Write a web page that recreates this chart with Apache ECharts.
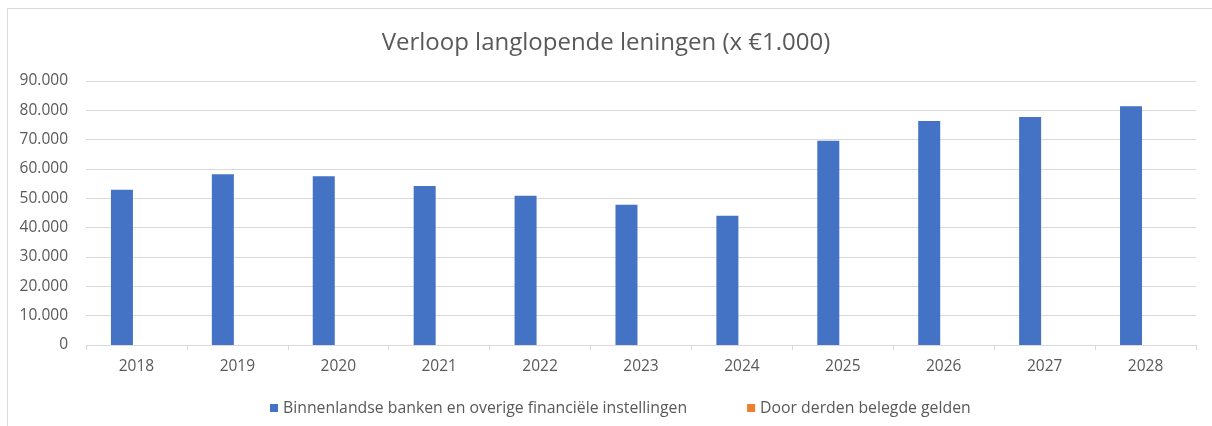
<!DOCTYPE html>
<html>
<head>
<meta charset="utf-8">
<script src="https://cdn.jsdelivr.net/npm/echarts@6/dist/echarts.min.js"></script>
<style>
html,body{margin:0;padding:0;background:#fff;}
#c{width:1212px;height:426px;}
</style>
</head>
<body>
<div id="c"></div>
<script>
const categories = ['2018','2019','2020','2021','2022','2023','2024','2025','2026','2027','2028'];
const binnenlandse = [52900, 58200, 57500, 54200, 50900, 47800, 44100, 69600, 76400, 77700, 81400];
const derden = [0, 0, 0, 0, 0, 0, 0, 0, 0, 0, 0];
const seriesNames = ['Binnenlandse banken en overige financiële instellingen', 'Door derden belegde gelden'];
const titleText = 'Verloop langlopende leningen (x €1.000)';

function fmt(v){
  return String(Math.round(v)).replace(/\B(?=(\d{3})+(?!\d))/g, '.');
}

const chart = echarts.init(document.getElementById('c'), null, {renderer:'canvas'});
const font = 'Open Sans';
chart.setOption({
  animation:false,
  backgroundColor:'#ffffff',
  graphic:[{
    type:'rect', shape:{x:7.5,y:8.5,width:1220,height:430},
    style:{fill:'none', stroke:'#d9d9d9', lineWidth:1}, silent:true
  }],
  title:{
    text:titleText, left:'center', top:26,
    textStyle:{fontFamily:font, fontSize:24, fontWeight:'normal', color:'#595959'}
  },
  legend:{
    bottom:5, left:265, itemWidth:8, itemHeight:8, itemGap:60,
    icon:'rect',
    textStyle:{fontFamily:font, fontSize:15.8, color:'#595959'},
    data:seriesNames
  },
  grid:{left:86, right:16, top:81, bottom:81, containLabel:false},
  xAxis:{
    type:'category', data:categories,
    axisLine:{lineStyle:{color:'#d9d9d9', width:1}},
    axisTick:{show:true, length:5, lineStyle:{color:'#d9d9d9'}},
    axisLabel:{fontFamily:font, fontSize:15.5, color:'#595959', margin:14}
  },
  yAxis:{
    type:'value', min:0, max:90000, interval:10000,
    axisLine:{show:false}, axisTick:{show:false},
    splitLine:{lineStyle:{color:'#d9d9d9', width:1}},
    axisLabel:{fontFamily:font, fontSize:15.5, color:'#595959', margin:18, formatter:fmt}
  },
  series:[
    {name:seriesNames[0], type:'bar', data:binnenlandse, barWidth:22, barGap:'32%',
     itemStyle:{color:'#4472c4'}},
    {name:seriesNames[1], type:'bar', data:derden, barWidth:22,
     itemStyle:{color:'#ed7d31'}}
  ]
});
</script>
</body>
</html>
